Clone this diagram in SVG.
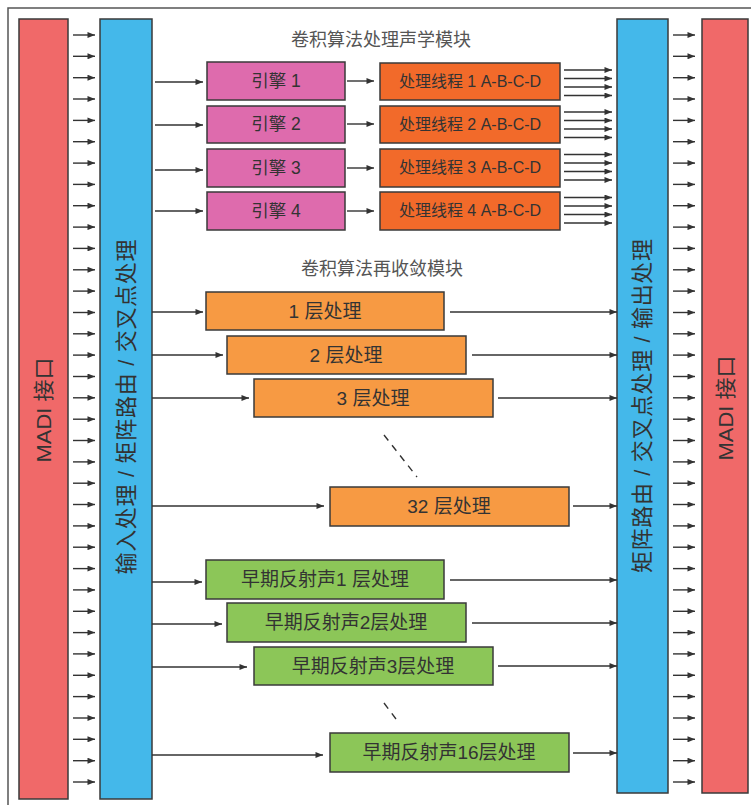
<svg xmlns="http://www.w3.org/2000/svg" width="751" height="805" viewBox="0 0 751 805">
<style>
.bx{stroke:#3a3a3a;stroke-width:1.5}
.red{fill:#F06969}
.blue{fill:#44B8EA}
.pink{fill:#DE6BAD}
.thr{fill:#F26A2A}
.lay{fill:#F79A43}
.grn{fill:#8CC658}
.ln path{stroke:#333;stroke-width:1.4;fill:none;marker-end:url(#ah)}
.t{font-family:"Liberation Sans","Noto Sans CJK SC",sans-serif;fill:#333;text-anchor:middle}
.ttl{font-family:"Liberation Serif","Noto Sans CJK SC",serif;fill:#555;font-size:18px;text-anchor:middle}
.dash{stroke:#333;stroke-width:1.4;stroke-dasharray:7 6}
</style>
<defs>
<marker id="ah" viewBox="0 0 10 8" refX="10" refY="4" markerWidth="8" markerHeight="6" markerUnits="userSpaceOnUse" orient="auto">
<path d="M0,0 L10,4 L0,8 Z" fill="#333"/>
</marker>
</defs>
<rect x="8" y="8" width="800" height="800" fill="none" stroke="#555" stroke-width="1.5"/>

<g id="madi-left"><rect class="bx red" x="19" y="19" width="49" height="780"/>
<text class="t" font-size="21" transform="translate(51,410) rotate(-90)" textLength="105" lengthAdjust="spacingAndGlyphs">MADI 接口</text></g>
<g id="input-proc"><rect class="bx blue" x="100" y="19" width="52" height="780"/>
<text class="t" font-size="22" transform="translate(134,407) rotate(-90)" textLength="335" lengthAdjust="spacing">输入处理 / 矩阵路由 / 交叉点处理</text></g>
<g id="output-proc"><rect class="bx blue" x="617" y="19" width="51" height="774"/>
<text class="t" font-size="22" transform="translate(650,406) rotate(-90)" textLength="334" lengthAdjust="spacing">矩阵路由 / 交叉点处理 / 输出处理</text></g>
<g id="madi-right"><rect class="bx red" x="702" y="19" width="46" height="774"/>
<text class="t" font-size="21" transform="translate(733,408) rotate(-90)" textLength="105" lengthAdjust="spacingAndGlyphs">MADI 接口</text></g>

<text class="ttl" x="381" y="46">卷积算法处理声学模块</text>
<text class="ttl" x="382" y="275">卷积算法再收敛模块</text>

<g id="engine1"><rect class="bx pink" x="207" y="62" width="138" height="38"/><text class="t" font-size="17.5" x="276" y="87">引擎 1</text></g>
<g id="engine2"><rect class="bx pink" x="207" y="106" width="138" height="37"/><text class="t" font-size="17.5" x="276" y="130">引擎 2</text></g>
<g id="engine3"><rect class="bx pink" x="207" y="149" width="138" height="38"/><text class="t" font-size="17.5" x="276" y="174">引擎 3</text></g>
<g id="engine4"><rect class="bx pink" x="207" y="192" width="138" height="38"/><text class="t" font-size="17.5" x="276" y="217">引擎 4</text></g>

<g id="thread1"><rect class="bx thr" x="380" y="63" width="180" height="37"/><text class="t" font-size="16" x="470" y="87">处理线程 1 A-B-C-D</text></g>
<g id="thread2"><rect class="bx thr" x="380" y="106" width="180" height="37"/><text class="t" font-size="16" x="470" y="130">处理线程 2 A-B-C-D</text></g>
<g id="thread3"><rect class="bx thr" x="380" y="149" width="180" height="38"/><text class="t" font-size="16" x="470" y="173">处理线程 3 A-B-C-D</text></g>
<g id="thread4"><rect class="bx thr" x="380" y="192" width="180" height="38"/><text class="t" font-size="16" x="470" y="216">处理线程 4 A-B-C-D</text></g>

<g id="layer1"><rect class="bx lay" x="206" y="292" width="238" height="38"/><text class="t" font-size="19" x="325" y="318">1 层处理</text></g>
<g id="layer2"><rect class="bx lay" x="227" y="336" width="239" height="38"/><text class="t" font-size="19" x="346" y="362">2 层处理</text></g>
<g id="layer3"><rect class="bx lay" x="254" y="379" width="239" height="38"/><text class="t" font-size="19" x="373" y="405">3 层处理</text></g>
<g id="layer32"><rect class="bx lay" x="330" y="487" width="239" height="39"/><text class="t" font-size="19" x="449" y="513">32 层处理</text></g>

<g id="early1"><rect class="bx grn" x="206" y="560" width="238" height="39"/><text class="t" font-size="19" x="325" y="586">早期反射声1 层处理</text></g>
<g id="early2"><rect class="bx grn" x="227" y="603" width="239" height="39"/><text class="t" font-size="19" x="346" y="629">早期反射声2层处理</text></g>
<g id="early3"><rect class="bx grn" x="254" y="647" width="239" height="38"/><text class="t" font-size="19" x="373" y="673">早期反射声3层处理</text></g>
<g id="early16"><rect class="bx grn" x="330" y="733" width="239" height="39"/><text class="t" font-size="19" x="449" y="759">早期反射声16层处理</text></g>

<g id="connectors" class="ln">
<path d="M73,35H95"/><path d="M73,56.3H95"/><path d="M73,77.7H95"/><path d="M73,99H95"/><path d="M73,120.4H95"/><path d="M73,141.7H95"/><path d="M73,163.1H95"/><path d="M73,184.4H95"/><path d="M73,205.7H95"/><path d="M73,227.1H95"/><path d="M73,248.4H95"/><path d="M73,269.8H95"/><path d="M73,291.1H95"/><path d="M73,312.5H95"/><path d="M73,333.8H95"/><path d="M73,355.1H95"/><path d="M73,376.5H95"/><path d="M73,397.8H95"/><path d="M73,419.2H95"/><path d="M73,440.5H95"/><path d="M73,461.9H95"/><path d="M73,483.2H95"/><path d="M73,504.5H95"/><path d="M73,525.9H95"/><path d="M73,547.2H95"/><path d="M73,568.6H95"/><path d="M73,589.9H95"/><path d="M73,611.3H95"/><path d="M73,632.6H95"/><path d="M73,653.9H95"/><path d="M73,675.3H95"/><path d="M73,696.6H95"/><path d="M73,718H95"/><path d="M73,739.3H95"/><path d="M73,760.7H95"/><path d="M73,782H95"/>
<path d="M673,35H695"/><path d="M673,56.3H695"/><path d="M673,77.7H695"/><path d="M673,99H695"/><path d="M673,120.4H695"/><path d="M673,141.7H695"/><path d="M673,163.1H695"/><path d="M673,184.4H695"/><path d="M673,205.7H695"/><path d="M673,227.1H695"/><path d="M673,248.4H695"/><path d="M673,269.8H695"/><path d="M673,291.1H695"/><path d="M673,312.5H695"/><path d="M673,333.8H695"/><path d="M673,355.1H695"/><path d="M673,376.5H695"/><path d="M673,397.8H695"/><path d="M673,419.2H695"/><path d="M673,440.5H695"/><path d="M673,461.9H695"/><path d="M673,483.2H695"/><path d="M673,504.5H695"/><path d="M673,525.9H695"/><path d="M673,547.2H695"/><path d="M673,568.6H695"/><path d="M673,589.9H695"/><path d="M673,611.3H695"/><path d="M673,632.6H695"/><path d="M673,653.9H695"/><path d="M673,675.3H695"/><path d="M673,696.6H695"/><path d="M673,718H695"/><path d="M673,739.3H695"/><path d="M673,760.7H695"/><path d="M673,782H695"/>
<path d="M155,82H203"/><path d="M155,125H203"/><path d="M155,170H203"/><path d="M155,211H203"/>
<path d="M347,81H374"/><path d="M347,124H374"/><path d="M347,168H374"/><path d="M347,211H374"/>
<path d="M564,70H612"/><path d="M564,78.5H612"/><path d="M564,87H612"/><path d="M564,95.5H612"/>
<path d="M564,112H612"/><path d="M564,120.5H612"/><path d="M564,129H612"/><path d="M564,137.5H612"/>
<path d="M564,154.5H612"/><path d="M564,163H612"/><path d="M564,171.5H612"/><path d="M564,180H612"/>
<path d="M564,197.5H612"/><path d="M564,206H612"/><path d="M564,214.5H612"/><path d="M564,223H612"/>
<path d="M152,312H203"/><path d="M152,355H223"/><path d="M152,398H249"/><path d="M152,506H324"/>
<path d="M152,582H202"/><path d="M152,624H222"/><path d="M152,667H247"/><path d="M152,755H323"/>
<path d="M450,312H617"/><path d="M472,355H617"/><path d="M498,398H617"/><path d="M573,506H617"/>
<path d="M450,580H617"/><path d="M472,623H617"/><path d="M498,666H617"/><path d="M573,753H617"/>
</g>
<line class="dash" x1="384" y1="435" x2="417" y2="477"/>
<line class="dash" x1="384" y1="703" x2="399" y2="723"/>
</svg>
